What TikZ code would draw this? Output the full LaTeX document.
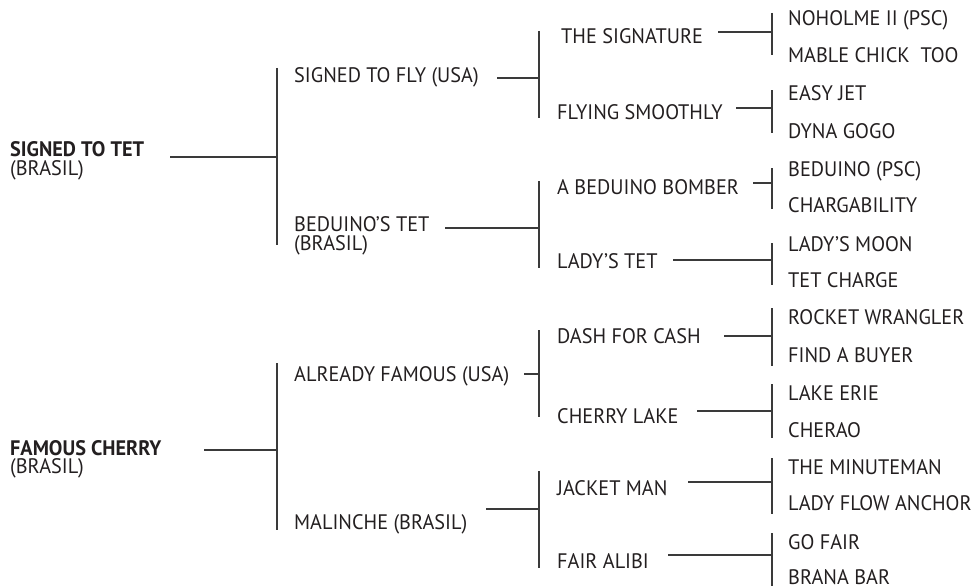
\documentclass[tikz,border=0pt]{standalone}
\usepackage{fontspec}
\setmainfont{PT Sans}[FakeStretch=0.965]
\definecolor{linecol}{HTML}{3A3A3A}
\definecolor{txtcol}{HTML}{231F20}
\begin{document}
\begin{tikzpicture}[x=1pt,y=-1pt,
  lbl/.style={anchor=base west, inner sep=0pt, text=txtcol, font=\fontsize{21}{18.3}\selectfont, align=left},
  conn/.style={line width=1.2pt, draw=linecol}]
\useasboundingbox (0,0) rectangle (980,586);

% level 1 (base anchor = baseline of last line)
\node[lbl] (r1) at (10,175) {\textbf{SIGNED TO TET}\\(BRASIL)};
\node[lbl] (r2) at (10,473.5) {\textbf{FAMOUS CHERRY}\\(BRASIL)};
% level 2
\node[lbl] (a1) at (294,82.5) {SIGNED TO FLY (USA)};
\node[lbl] (a2) at (294,250) {BEDUINO’S TET\\(BRASIL)};
\node[lbl] (a3) at (294,381) {ALREADY FAMOUS (USA)};
\node[lbl] (a4) at (294,529) {MALINCHE (BRASIL)};
% level 3
\node[lbl] (b1) at (561,44) {THE SIGNATURE};
\node[lbl] (b2) at (557,119) {FLYING SMOOTHLY};
\node[lbl] (b3) at (557,194) {A BEDUINO BOMBER};
\node[lbl] (b4) at (557,268) {LADY’S TET};
\node[lbl] (b5) at (557,343) {DASH FOR CASH};
\node[lbl] (b6) at (557,423) {CHERRY LAKE};
\node[lbl] (b7) at (557,495) {JACKET MAN};
\node[lbl] (b8) at (557,568) {FAIR ALIBI};
% level 4
\node[lbl] (c1) at (788,26) {NOHOLME II (PSC)};
\node[lbl] (c2) at (788,63) {MABLE CHICK\ \ TOO};
\node[lbl] (c3) at (788,100) {EASY JET};
\node[lbl] (c4) at (788,138) {DYNA GOGO};
\node[lbl] (c5) at (788,176) {BEDUINO (PSC)};
\node[lbl] (c6) at (788,212) {CHARGABILITY};
\node[lbl] (c7) at (788,251) {LADY’S MOON};
\node[lbl] (c8) at (788,287) {TET CHARGE};
\node[lbl] (c9) at (788,324) {ROCKET WRANGLER};
\node[lbl] (c10) at (788,362) {FIND A BUYER};
\node[lbl] (c11) at (788,400) {LAKE ERIE};
\node[lbl] (c12) at (788,437) {CHERAO};
\node[lbl] (c13) at (788,474) {THE MINUTEMAN};
\node[lbl] (c14) at (788,510) {LADY FLOW ANCHOR};
\node[lbl] (c15) at (788,549) {GO FAIR};
\node[lbl] (c16) at (788,584) {BRANA BAR};

% connector coordinates: start (s), mid on bar (m), bar top (t), bar bottom (u)
\coordinate (r1s) at (170,157); \coordinate (r1m) at (277,157);
\coordinate (r1t) at (277,68);  \coordinate (r1u) at (277,245);
\coordinate (r2s) at (204,450); \coordinate (r2m) at (277,450);
\coordinate (r2t) at (277,363); \coordinate (r2u) at (277,530);

\coordinate (a1s) at (497,78);  \coordinate (a1m) at (539,78);
\coordinate (a1t) at (539,31);  \coordinate (a1u) at (539,118);
\coordinate (a2s) at (445,228); \coordinate (a2m) at (539,228);
\coordinate (a2t) at (539,181); \coordinate (a2u) at (539,268);
\coordinate (a3s) at (524,374); \coordinate (a3m) at (539,374);
\coordinate (a3t) at (539,330); \coordinate (a3u) at (539,417);
\coordinate (a4s) at (486,509); \coordinate (a4m) at (539,509);
\coordinate (a4t) at (539,471); \coordinate (a4u) at (539,568);

\coordinate (b1s) at (718,32);  \coordinate (b1m) at (772,32);
\coordinate (b1t) at (772,13);  \coordinate (b1u) at (772,55);
\coordinate (b2s) at (736,108); \coordinate (b2m) at (772,108);
\coordinate (b2t) at (772,90);  \coordinate (b2u) at (772,133);
\coordinate (b3s) at (753,183); \coordinate (b3m) at (772,183);
\coordinate (b3t) at (772,168); \coordinate (b3u) at (772,209);
\coordinate (b4s) at (673,260); \coordinate (b4m) at (772,260);
\coordinate (b4t) at (772,243); \coordinate (b4u) at (772,285);
\coordinate (b5s) at (724,336); \coordinate (b5m) at (772,336);
\coordinate (b5t) at (772,308); \coordinate (b5u) at (772,366);
\coordinate (b6s) at (697,411); \coordinate (b6m) at (772,411);
\coordinate (b6t) at (772,384); \coordinate (b6u) at (772,438);
\coordinate (b7s) at (688,482); \coordinate (b7m) at (772,482);
\coordinate (b7t) at (772,458); \coordinate (b7u) at (772,514);
\coordinate (b8s) at (668,555); \coordinate (b8m) at (772,555);
\coordinate (b8t) at (772,533); \coordinate (b8u) at (772,586);

\foreach \n in {r1,r2,a1,a2,a3,a4,b1,b2,b3,b4,b5,b6,b7,b8}{
  \draw[conn] (\n s) -- (\n m);
  \draw[conn] (\n t) -- (\n u);
}
\end{tikzpicture}
\end{document}
